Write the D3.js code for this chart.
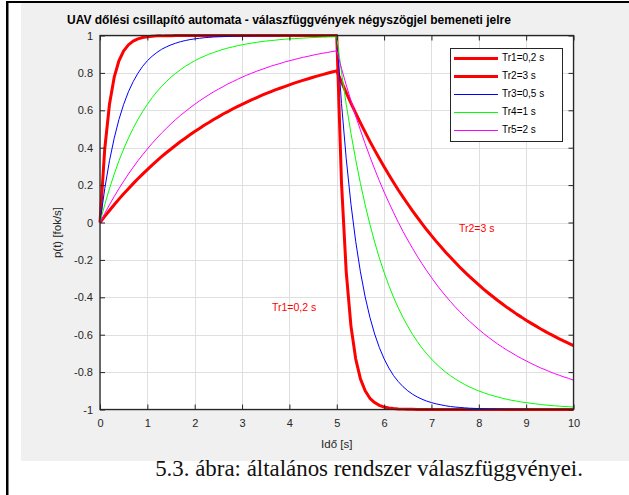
<!DOCTYPE html>
<html>
<head>
<meta charset="utf-8">
<script src="https://cdn.jsdelivr.net/npm/d3@7"></script>
<style>
  body { margin: 0; background: #fff; }
  svg { display: block; }
</style>
</head>
<body>
<svg id="chart" width="629" height="495"></svg>
<script>
// Time samples, 0 .. 10 s in 0.1 s steps
const timeSec = d3.range(0, 101).map(i => i / 10);

// Responses p(t) of the five damper settings to a ±1 square-wave input
const tr1 = [0,.393,.632,.777,.865,.918,.950,.970,.982,.989,
  .993,.996,.998,.998,.999,.999,1,1,1,1,
  1,1,1,1,1,1,1,1,1,1,
  1,1,1,1,1,1,1,1,1,1,
  1,1,1,1,1,1,1,1,1,1,
  1,
  .213,-.264,-.554,-.729,-.836,-.900,-.940,-.963,-.978,-.987,
  -.992,-.995,-.997,-.998,-.999,-.999,-1,-1,-1,-1,
  -1,-1,-1,-1,-1,-1,-1,-1,-1,-1,
  -1,-1,-1,-1,-1,-1,-1,-1,-1,-1,
  -1,-1,-1,-1,-1,-1,-1,-1,-1,-1];

const tr2 = [0,.033,.064,.095,.125,.154,.181,.208,.234,.259,
  .283,.307,.330,.352,.373,.393,.413,.433,.451,.469,
  .487,.503,.520,.535,.551,.565,.580,.593,.607,.620,
  .632,.644,.656,.667,.678,.689,.699,.709,.718,.727,
  .736,.745,.753,.761,.769,.777,.784,.791,.798,.805,
  .811,
  .752,.694,.639,.585,.533,.483,.434,.387,.342,.298,
  .255,.214,.174,.136,.099,.062,.028,-.006,-.039,-.070,
  -.101,-.130,-.159,-.186,-.213,-.239,-.264,-.288,-.311,-.334,
  -.356,-.377,-.397,-.417,-.436,-.455,-.472,-.490,-.506,-.523,
  -.538,-.553,-.568,-.582,-.596,-.609,-.622,-.634,-.646,-.658];

const tr3 = [0,.181,.330,.451,.551,.632,.699,.753,.798,.835,
  .865,.889,.909,.926,.939,.950,.959,.967,.973,.978,
  .982,.985,.988,.990,.992,.993,.994,.995,.996,.997,
  .998,.998,.998,.999,.999,.999,.999,.999,.999,1,
  1,1,1,1,1,1,1,1,1,1,
  1,
  .637,.341,.098,-.101,-.264,-.398,-.507,-.596,-.669,-.729,
  -.778,-.819,-.851,-.878,-.900,-.918,-.933,-.945,-.955,-.963,
  -.970,-.975,-.980,-.984,-.987,-.989,-.991,-.993,-.994,-.995,
  -.996,-.997,-.997,-.998,-.998,-.999,-.999,-.999,-.999,-.999,
  -1,-1,-1,-1,-1,-1,-1,-1,-1,-1];

const tr4 = [0,.095,.181,.259,.330,.393,.451,.503,.551,.593,
  .632,.667,.699,.727,.753,.777,.798,.817,.835,.850,
  .865,.878,.889,.900,.909,.918,.926,.933,.939,.945,
  .950,.955,.959,.963,.967,.970,.973,.975,.978,.980,
  .982,.983,.985,.986,.988,.989,.990,.991,.992,.993,
  .993,
  .804,.632,.477,.336,.209,.094,-.010,-.104,-.190,-.267,
  -.337,-.400,-.457,-.508,-.555,-.598,-.636,-.671,-.702,-.730,
  -.756,-.779,-.800,-.819,-.836,-.852,-.866,-.879,-.890,-.901,
  -.910,-.919,-.926,-.933,-.940,-.946,-.951,-.955,-.960,-.963,
  -.967,-.970,-.973,-.976,-.978,-.980,-.982,-.984,-.985,-.987];

const tr5 = [0,.049,.095,.139,.181,.221,.259,.295,.330,.362,
  .393,.423,.451,.478,.503,.528,.551,.573,.593,.613,
  .632,.650,.667,.683,.699,.713,.727,.741,.753,.765,
  .777,.788,.798,.808,.817,.826,.835,.843,.850,.858,
  .865,.871,.878,.884,.889,.895,.900,.905,.909,.914,
  .918,
  .824,.735,.651,.570,.494,.421,.352,.286,.223,.163,
  .107,.053,.001,-.048,-.094,-.138,-.180,-.220,-.258,-.294,
  -.329,-.362,-.393,-.422,-.451,-.477,-.503,-.527,-.550,-.572,
  -.593,-.613,-.632,-.650,-.667,-.683,-.698,-.713,-.727,-.740,
  -.753,-.765,-.777,-.787,-.798,-.808,-.817,-.826,-.834,-.843];

const seriesNames = ["Tr1=0,2 s", "Tr2=3 s", "Tr3=0,5 s", "Tr4=1 s", "Tr5=2 s"];
const seriesValues = [tr1, tr2, tr3, tr4, tr5];
const seriesColors = ["#ff0000", "#ff0000", "#0000ff", "#00ff00", "#ff00ff"];
const seriesWidths = [3, 3, 1, 1, 1];

const xTicks = [0, 1, 2, 3, 4, 5, 6, 7, 8, 9, 10];
const yTicks = [1, 0.8, 0.6, 0.4, 0.2, 0, -0.2, -0.4, -0.6, -0.8, -1];
const yTickLabels = ["1", "0.8", "0.6", "0.4", "0.2", "0", "-0.2", "-0.4", "-0.6", "-0.8", "-1"];

const titleText = "UAV dőlési csillapító automata - válaszfüggvények négyszögjel bemeneti jelre";
const xLabel = "Idő [s]";
const yLabel = "p(t) [fok/s]";
const captionText = "5.3. ábra: általános rendszer válaszfüggvényei.";
const noteTexts = ["Tr2=3 s", "Tr1=0,2 s"];

const svg = d3.select("#chart");
const axisColor = "#262626";
const sans = "'Liberation Sans', Arial, Helvetica, sans-serif";

// page frame: thin black rule on the left and top, grey figure panel
svg.append("rect").attr("x", 0).attr("y", 0).attr("width", 629).attr("height", 495).attr("fill", "#fff");
svg.append("rect").attr("x", 21).attr("y", 3).attr("width", 608).attr("height", 458).attr("fill", "#f0f0f0");
svg.append("rect").attr("x", 6).attr("y", 1).attr("width", 2.5).attr("height", 494).attr("fill", "#000");
svg.append("rect").attr("x", 6).attr("y", 1).attr("width", 623).attr("height", 2).attr("fill", "#000");

const x = d3.scaleLinear().domain([0, 10]).range([100, 573.5]);
const y = d3.scaleLinear().domain([-1, 1]).range([409.5, 35.5]);

// plot area
svg.append("rect")
  .attr("x", x(0)).attr("y", y(1))
  .attr("width", x(10) - x(0)).attr("height", y(-1) - y(1))
  .attr("fill", "#fff");

// grid
const grid = svg.append("g").attr("stroke", "#dfdfdf").attr("stroke-width", 1);
grid.selectAll("line.gx").data(xTicks).join("line")
  .attr("x1", d => Math.round(x(d)) + 0.5).attr("x2", d => Math.round(x(d)) + 0.5)
  .attr("y1", y(1)).attr("y2", y(-1));
grid.selectAll("line.gy").data(yTicks).join("line")
  .attr("y1", d => Math.round(y(d)) + 0.5).attr("y2", d => Math.round(y(d)) + 0.5)
  .attr("x1", x(0)).attr("x2", x(10));

// response curves
const line = d3.line().x((d, i) => x(timeSec[i])).y(d => y(d));
svg.append("g").selectAll("path").data(seriesValues).join("path")
  .attr("d", d => line(d))
  .attr("fill", "none")
  .attr("stroke", (d, i) => seriesColors[i])
  .attr("stroke-width", (d, i) => seriesWidths[i])
  .attr("stroke-linejoin", "round");

// axes with inward ticks on all four sides
function styleAxis(g) {
  g.select(".domain").remove();
  g.selectAll(".tick line").attr("stroke", axisColor);
  g.selectAll(".tick text").attr("fill", axisColor).attr("font-family", sans).attr("font-size", 11);
}
svg.append("g").attr("transform", `translate(0,${y(-1)})`)
  .call(d3.axisBottom(x).tickValues(xTicks).tickSizeInner(-5).tickSizeOuter(0).tickPadding(10).tickFormat(d3.format("d")))
  .call(styleAxis);
svg.append("g").attr("transform", `translate(${x(0)},0)`)
  .call(d3.axisLeft(y).tickValues(yTicks).tickSizeInner(-5).tickSizeOuter(0).tickPadding(7)
    .tickFormat((d, i) => yTickLabels[i]))
  .call(styleAxis);
svg.append("g").attr("transform", `translate(0,${y(1)})`)
  .call(d3.axisTop(x).tickValues(xTicks).tickSizeInner(-5).tickSizeOuter(0).tickFormat(""))
  .call(styleAxis);
svg.append("g").attr("transform", `translate(${x(10)},0)`)
  .call(d3.axisRight(y).tickValues(yTicks).tickSizeInner(-5).tickSizeOuter(0).tickFormat(""))
  .call(styleAxis);

svg.append("rect")
  .attr("x", x(0)).attr("y", y(1))
  .attr("width", x(10) - x(0)).attr("height", y(-1) - y(1))
  .attr("fill", "none").attr("stroke", axisColor).attr("stroke-width", 1.3);

// titles and axis labels
svg.append("text").attr("x", 67).attr("y", 24)
  .attr("font-family", sans).attr("font-size", 12).attr("font-weight", "bold").attr("fill", "#000")
  .text(titleText);
svg.append("text").attr("x", (x(0) + x(10)) / 2).attr("y", 448).attr("text-anchor", "middle")
  .attr("font-family", sans).attr("font-size", 11.5).attr("fill", axisColor).text(xLabel);
svg.append("text").attr("transform", `translate(61,${y(0) + 10}) rotate(-90)`).attr("text-anchor", "middle")
  .attr("font-family", sans).attr("font-size", 11.5).attr("fill", axisColor).text(yLabel);

// in-plot notes
svg.append("text").attr("x", 459).attr("y", 232)
  .attr("font-family", sans).attr("font-size", 10.5).attr("fill", "#ff0000").text(noteTexts[0]);
svg.append("text").attr("x", 272).attr("y", 311)
  .attr("font-family", sans).attr("font-size", 10.5).attr("fill", "#ff0000").text(noteTexts[1]);

// legend
const leg = svg.append("g");
leg.append("rect").attr("x", 450.5).attr("y", 48.5).attr("width", 112).attr("height", 93)
  .attr("fill", "#fff").attr("stroke", axisColor).attr("stroke-width", 1);
seriesNames.forEach((name, i) => {
  const ry = 58.5 + i * 18;
  leg.append("line").attr("x1", 454).attr("x2", 498).attr("y1", ry).attr("y2", ry)
    .attr("stroke", seriesColors[i]).attr("stroke-width", seriesWidths[i]);
  leg.append("text").attr("x", 502).attr("y", ry + 2)
    .attr("font-family", sans).attr("font-size", 10).attr("fill", "#000").text(name);
});

// figure caption
const cap = svg.append("text").attr("x", 369).attr("y", 476).attr("text-anchor", "middle")
  .attr("font-family", "'Liberation Serif', 'Times New Roman', serif").attr("font-size", 22).attr("fill", "#111")
  .text(captionText);
const w = cap.node().getComputedTextLength();
cap.attr("font-size", 22 * 428 / w);
</script>
</body>
</html>
